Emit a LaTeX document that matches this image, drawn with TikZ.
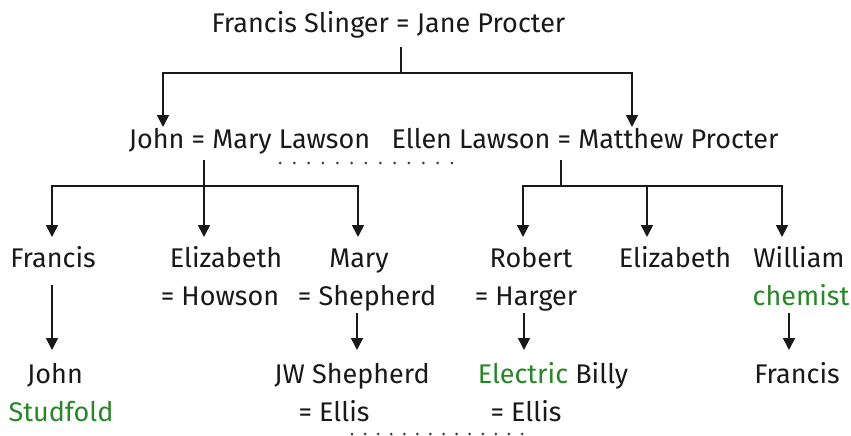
\documentclass[tikz,border=0pt]{standalone}
\usepackage{fontspec}
\setmainfont{Fira Sans}
\usepackage{xcolor}
\usepackage{tikz}
\usetikzlibrary{arrows.meta}

\definecolor{gr}{RGB}{38,135,38}
\definecolor{ink}{RGB}{25,25,25}

\begin{document}
\begin{tikzpicture}
  [
    x=1pt, y=-1pt,
    >={Triangle[width=12pt,length=12pt]},
    person/.style = {anchor=base, inner sep=0pt, text=ink, font=\fontsize{27}{32}\selectfont},
    note/.style   = {person, text=gr},
    line/.style   = {draw=ink, line width=1.7pt},
    arr/.style    = {line, ->},
    dot/.style    = {fill=black!75},
  ]

\useasboundingbox (0,0) rectangle (851,436);

%Heights of the bars between a couple and their children
\def \busa{73}
\def \busb{186}

%Generation 1
\node[person] (fsjp) at (388.5,33) {Francis Slinger = Jane Procter};

%Generation 2
\node[person] (jmary) at (249.5,148) {John = Mary Lawson};
\node[person] (elmp)  at (585,148)   {Ellen Lawson = Matthew Procter};

%Generation 3
\node[person] (francis)  at (53,267)  {Francis};
\node[person] (eliz)     at (226,267) {Elizabeth};
\node[person] (howson)   at (220,305) {= Howson};
\node[person] (mary)     at (359,267) {Mary};
\node[person] (shepherd) at (367,305) {= Shepherd};
\node[person] (robert)   at (531,267) {Robert};
\node[person] (harger)   at (526,305) {= Harger};
\node[person] (elizb)    at (675,267) {Elizabeth};
\node[person] (william)  at (799,267) {William};
\node[note]   (chemist)  at (801,305) {chemist};

%Generation 4
\node[person] (john)     at (55,383)  {John};
\node[note]   (studfold) at (61,421)  {Studfold};
\node[person] (jws)      at (352,383) {JW Shepherd};
\node[person] (ellisa)   at (334,421) {= Ellis};
\node[person] (billy)    at (553,383) {\textcolor{gr}{Electric} Billy};
\node[person] (ellisb)   at (526,421) {= Ellis};
\node[person] (francisb) at (797,383) {Francis};

%Where the lines leave a couple (under the = sign)
\coordinate (fsjpEq) at (401,47);
\coordinate (jmEq)   at (204,160);
\coordinate (emEq)   at (561,160);

%Arrow tips above the children
\coordinate (toJohn)     at (163,127);
\coordinate (toEllen)    at (632,127);
\coordinate (toFrancis)  at (52,237);
\coordinate (toEliz)     at (204,237);
\coordinate (toMary)     at (358,237);
\coordinate (toRobert)   at (523,237);
\coordinate (toElizb)    at (647,237);
\coordinate (toWilliam)  at (782,237);

%Single descents: start under the parent, tip above the child
\coordinate (fromFrancis) at (52,285);
\coordinate (toJohnS)     at (52,350);
\coordinate (fromMary)    at (357,313);
\coordinate (toJws)       at (357,350);
\coordinate (fromRobert)  at (524,313);
\coordinate (toBilly)     at (524,350);
\coordinate (fromWilliam) at (789,313);
\coordinate (toFrancisb)  at (789,350);

%Francis Slinger = Jane Procter
\draw[arr] (fsjpEq) -- (fsjpEq |- 0,\busa) -| (toJohn);
\draw[arr] (fsjpEq |- 0,\busa) -| (toEllen);

%John = Mary Lawson
\draw[arr] (jmEq) -- (jmEq |- 0,\busb) -| (toFrancis);
\draw[arr] (jmEq |- 0,\busb) -- (toEliz);
\draw[arr] (jmEq |- 0,\busb) -| (toMary);

%Ellen Lawson = Matthew Procter
\draw[arr] (emEq) -- (emEq |- 0,\busb) -| (toRobert);
\draw[arr] (emEq |- 0,\busb) -| (toElizb);
\draw[arr] (emEq |- 0,\busb) -| (toWilliam);

%Single descents
\draw[arr] (fromFrancis) -- (toJohnS);
\draw[arr] (fromMary)    -- (toJws);
\draw[arr] (fromRobert)  -- (toBilly);
\draw[arr] (fromWilliam) -- (toFrancisb);

%Dotted links between the two Lawson families
\foreach \i in {0,...,12}
  \fill[dot] (280+\i*14.33,163) circle (1.5);
\foreach \i in {0,...,13}
  \fill[dot] (352+\i*13.08,434) circle (1.5);
\end{tikzpicture}
\end{document}
